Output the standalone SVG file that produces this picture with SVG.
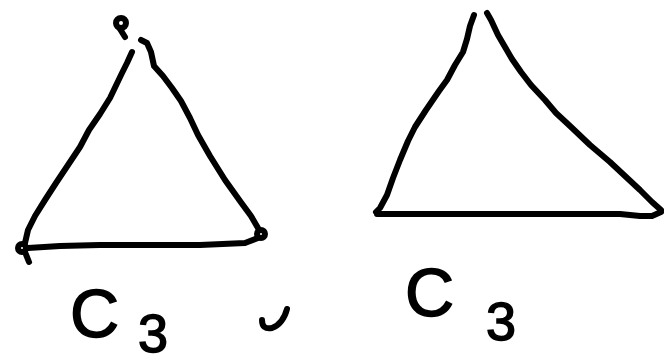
<svg xmlns="http://www.w3.org/2000/svg" width="664" height="363" viewBox="0 0 664 363">
<style>
.ink{fill:none;stroke:#000;stroke-width:6;stroke-linecap:round;stroke-linejoin:round}
.lbl{font-family:"Liberation Sans",Arial,sans-serif;fill:#000;stroke:#000;stroke-width:1.5}
</style>
<rect width="664" height="363" fill="#fff"/>
<g id="triangle-left">
<circle cx="121" cy="23" r="5" class="ink"/>
<path class="ink" d="M120,29 L125,37"/>
<path class="ink" d="M132,52 L127,63 L122,73 L110,98 L100,114 L89,130 L80,147 L70,162 L56,183 L45,200 L35,216 L28,230 L25,243"/>
<path class="ink" d="M141,40 L147,43 L151,52 L154,66 L163,76 L172,88 L181,101 L190,118 L198,135 L210,156 L225,180 L240,201 L251,216 L258,228"/>
<path class="ink" d="M28,248 L60,246 L100,245 L150,245 L200,245 L245,243 L258,238"/>
<circle cx="22" cy="248" r="4" class="ink" stroke-width="7"/>
<path class="ink" d="M25,252 L29,262"/>
<circle cx="261" cy="234" r="4" class="ink" stroke-width="7"/>
</g>
<g id="triangle-right">
<path class="ink" d="M474,15 L470,26 L467,39 L463,52 L455,65 L447,80 L439,91 L426,110 L415,127 L408,141 L400,160 L393,178 L387,195 L380,208 L376,212"/>
<path class="ink" d="M487,13 L491,20 L498,35 L505,47 L512,59 L521,72 L531,85 L545,100 L556,113 L570,126 L590,145 L610,162 L625,176 L640,190 L652,202 L661,210"/>
<path class="ink" d="M377,214 L400,214 L500,214 L620,214 L640,216 L652,216 L661,212"/>
</g>
<g id="label-left">
<text class="lbl" x="70" y="337" font-size="68">C</text>
<text class="lbl" x="138" y="352" font-size="54">3</text>
<path class="ink" d="M262,320 Q262,330 272,328 Q283,324 287,309"/>
</g>
<g id="label-right">
<text class="lbl" x="405" y="316" font-size="68">C</text>
<text class="lbl" x="486" y="340" font-size="54">3</text>
</g>
</svg>
